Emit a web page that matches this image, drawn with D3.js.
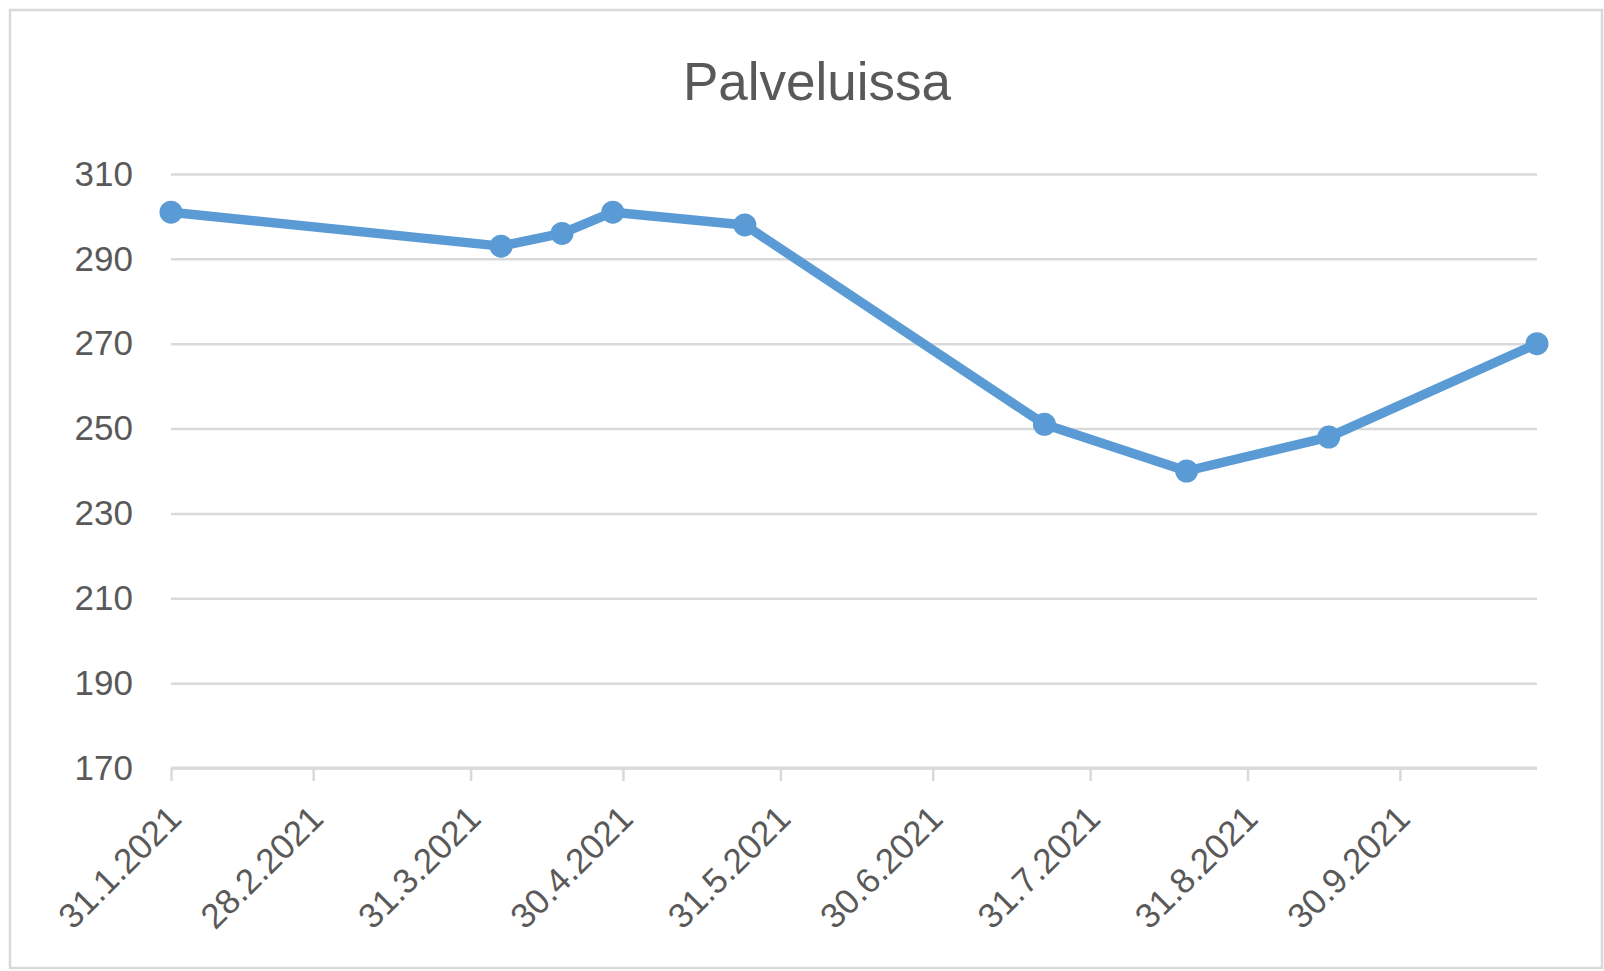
<!DOCTYPE html>
<html lang="fi">
<head>
    <meta charset="UTF-8">
    <title>Palveluissa</title>
    <script src="https://cdn.jsdelivr.net/npm/d3@7"></script>
    <style>
        body{margin:0;background:#fff;}
        svg{display:block;font-family:"Liberation Sans",Arial,sans-serif;}
    </style>
</head>
<body>
<div class="chart"></div>
<script>
    //data
    const dates=['31.1.2021','6.4.2021','18.4.2021','28.4.2021','24.5.2021','22.7.2021','19.8.2021','16.9.2021','27.10.2021']
    const values=[301,293,296,301,298,251,240,248,270]
    const tickDates=['31.1.2021','28.2.2021','31.3.2021','30.4.2021','31.5.2021','30.6.2021','31.7.2021','31.8.2021','30.9.2021']
    const yTicks=[170,190,210,230,250,270,290,310]

    const parse=d3.timeParse('%d.%m.%Y')
    const fmt=d=>d.getDate()+'.'+(d.getMonth()+1)+'.'+d.getFullYear()
    const data=dates.map((d,i)=>({date:parse(d),value:values[i]}))

    const W=1604,H=971
    const plotLeft=171,plotRight=1537,plotTop=174,plotBottom=768
    const grey='#595959',gridColor='#d9d9d9',blue='#5b9bd5'

    let svg=d3.select('.chart').append('svg').attr('width',W).attr('height',H)

    //frame
    svg.append('rect').attr('x',10).attr('y',10).attr('width',W-12).attr('height',H-13)
        .attr('fill','#fff').attr('stroke',gridColor).attr('stroke-width',2.5)

    //title
    svg.append('text').attr('x',817).attr('y',100).attr('text-anchor','middle')
        .attr('font-size',53).attr('fill',grey).text('Palveluissa')

    let xScale=d3.scaleTime().domain([parse(dates[0]),parse(dates[dates.length-1])]).range([plotLeft,plotRight])
    let yScale=d3.scaleLinear().domain([170,310]).range([plotBottom,plotTop])

    //grid + y labels
    let yAxis=d3.axisLeft(yScale).tickValues(yTicks).tickSize(-(plotRight-plotLeft)).tickPadding(38).tickFormat(d3.format('d'))
    let gy=svg.append('g').attr('transform','translate('+plotLeft+',0)').call(yAxis)
    gy.select('.domain').remove()
    gy.selectAll('line').attr('stroke',gridColor).attr('stroke-width',2.5)
    gy.selectAll('text').attr('font-size',35).attr('fill',grey).attr('font-family','"Liberation Sans",Arial,sans-serif')

    //x axis
    let xAxis=d3.axisBottom(xScale).tickValues(tickDates.map(parse)).tickSize(13).tickSizeOuter(0).tickFormat(fmt)
    let gx=svg.append('g').attr('transform','translate(0,'+plotBottom+')').call(xAxis)
    gx.select('.domain').attr('stroke',gridColor).attr('stroke-width',3)
        .attr('d','M'+plotLeft+',0H'+plotRight)
    gx.selectAll('line').attr('stroke',gridColor).attr('stroke-width',2.5)
    gx.selectAll('text').attr('font-size',35).attr('fill',grey).attr('font-family','"Liberation Sans",Arial,sans-serif')
        .attr('text-anchor','end').attr('y',0).attr('dy','0.35em')
        .attr('transform','translate(3,44) rotate(-45)')

    //line
    let line=d3.line().x(d=>xScale(d.date)).y(d=>yScale(d.value))
    svg.append('path').datum(data).attr('d',line).attr('fill','none')
        .attr('stroke',blue).attr('stroke-width',9.5).attr('stroke-linejoin','round')
    svg.selectAll('circle.pt').data(data).enter().append('circle').attr('class','pt')
        .attr('cx',d=>xScale(d.date)).attr('cy',d=>yScale(d.value)).attr('r',11.5).attr('fill',blue)
</script>
</body>
</html>
